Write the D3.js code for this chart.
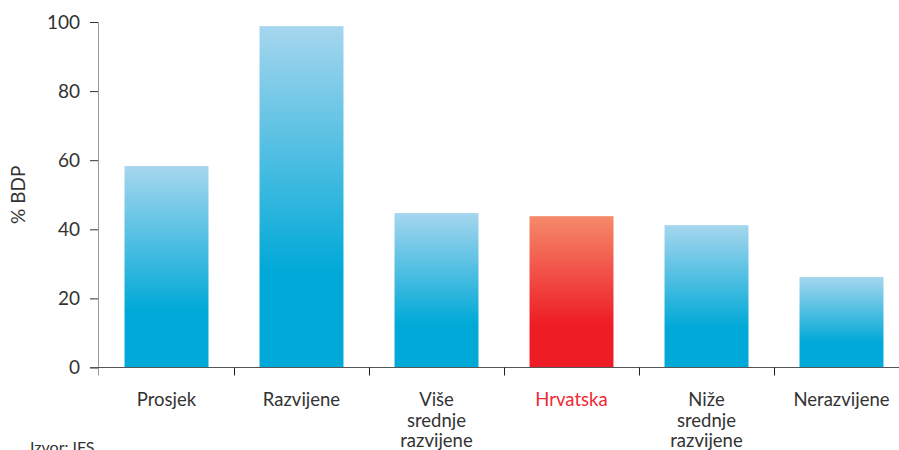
<!DOCTYPE html>
<html>
<head>
<meta charset="utf-8">
<script src="https://cdn.jsdelivr.net/npm/d3@7"></script>
<style>
  body { margin: 0; background: #fff; }
  svg text { font-family: Lato, "Open Sans", sans-serif; fill: #333; }
  .tick text { font-size: 19px; }
  .cat { font-size: 18.5px; }
</style>
</head>
<body>
<div id="chart"></div>
<script>
"use strict";

// Data
var categories = ["Prosjek", "Razvijene", "Više srednje razvijene", "Hrvatska", "Niže srednje razvijene", "Nerazvijene"];
var labels = [["Prosjek"], ["Razvijene"], ["Više", "srednje", "razvijene"], ["Hrvatska"], ["Niže", "srednje", "razvijene"], ["Nerazvijene"]];
var values = [58.3, 98.8, 44.7, 43.8, 41.2, 26.2];
var highlight = "Hrvatska";
var yTicks = [0, 20, 40, 60, 80, 100];


// Box sizing

var W = 899, H = 450,
    plotLeft = 99, plotTop = 22, plotBottom = 367.5,
    step = 135;

var svg = d3.select("#chart").append("svg")
    .attr("width", W)
    .attr("height", H);


// Gradients

var defs = svg.append("defs");

function gradient(id, c0, c1) {
  var g = defs.append("linearGradient")
      .attr("id", id)
      .attr("x1", 0).attr("y1", 0)
      .attr("x2", 0).attr("y2", 1);
  g.append("stop").attr("offset", "0%").attr("stop-color", c0);
  g.append("stop").attr("offset", "72%").attr("stop-color", c1);
  g.append("stop").attr("offset", "100%").attr("stop-color", c1);
}
gradient("blue", "#a6d6ee", "#00a9d7");
gradient("red", "#f58a6b", "#ee1c25");


// Scales

var x = d3.scaleBand()
    .domain(categories)
    .range([plotLeft, plotLeft + step * categories.length])
    .paddingInner(0.378)
    .paddingOuter(0.189);

var y = d3.scaleLinear()
    .domain([0, 100])
    .range([plotBottom, plotTop]);


// Bars

svg.selectAll("rect.bar")
    .data(categories)
  .enter().append("rect")
    .attr("class", "bar")
    .attr("x", function(d) { return x(d); })
    .attr("width", x.bandwidth())
    .attr("y", function(d, i) { return y(values[i]); })
    .attr("height", function(d, i) { return y(0) - y(values[i]); })
    .attr("fill", function(d) { return d == highlight ? "url(#red)" : "url(#blue)"; });


// Y axis

var yAxis = svg.append("g")
    .attr("transform", "translate(" + plotLeft + ",0)")
    .call(d3.axisLeft(y).tickValues(yTicks).tickSize(9).tickPadding(10));
yAxis.select(".domain").remove();
yAxis.selectAll(".tick line").attr("stroke", "#333");
yAxis.append("line")
    .attr("x1", -0.5).attr("x2", -0.5)
    .attr("y1", plotTop).attr("y2", plotBottom + 8)
    .attr("stroke", "#999");

svg.append("text")
    .attr("transform", "translate(25," + y(50) + ") rotate(-90)")
    .attr("text-anchor", "middle")
    .style("font-size", "19px")
    .text("% BDP");


// X axis

var bounds = d3.range(1, categories.length).map(function(i) { return plotLeft + step * i; });

svg.append("line")
    .attr("x1", plotLeft - 9).attr("x2", W)
    .attr("y1", plotBottom).attr("y2", plotBottom)
    .attr("stroke", "#555");

svg.selectAll("line.xtick")
    .data(bounds)
  .enter().append("line")
    .attr("class", "xtick")
    .attr("x1", function(d) { return d + 0.5; })
    .attr("x2", function(d) { return d + 0.5; })
    .attr("y1", plotBottom).attr("y2", plotBottom + 8)
    .attr("stroke", "#222");

var cat = svg.selectAll("text.cat")
    .data(categories)
  .enter().append("text")
    .attr("class", "cat")
    .attr("text-anchor", "middle")
    .attr("y", 406)
    .style("fill", function(d) { return d == highlight ? "#ee2a35" : "#333"; });

cat.each(function(d, i) {
  var t = d3.select(this);
  labels[i].forEach(function(line, j) {
    t.append("tspan")
        .attr("x", x(d) + x.bandwidth() / 2)
        .attr("dy", j == 0 ? 0 : 20.5)
        .text(line);
  });
});


// Source

svg.append("text")
    .attr("x", 30)
    .attr("y", 453)
    .style("font-size", "16px")
    .text("Izvor: IFS");
</script>
</body>
</html>
